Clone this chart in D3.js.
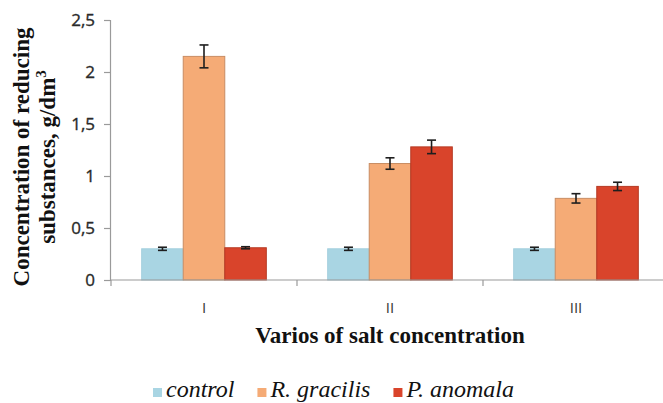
<!DOCTYPE html>
<html>
<head>
<meta charset="utf-8">
<script src="https://cdn.jsdelivr.net/npm/d3@7"></script>
<style>
  html, body { margin: 0; padding: 0; background: #fff; }
  svg { display: block; }
  .legend-text { font-family: "Liberation Serif", "Times New Roman", serif; font-style: italic; font-size: 24px; }
</style>
</head>
<body>
<div id="chart"></div>
<script>
// data
const categories = ['I', 'II', 'III'];
const seriesNames = ['control', 'R. gracilis', 'P. anomala'];
const controlValues = [0.30, 0.30, 0.30];
const gracilisValues = [2.15, 1.12, 0.785];
const anomalaValues = [0.31, 1.28, 0.90];
const controlErrors = [0.015, 0.015, 0.015];
const gracilisErrors = [0.11, 0.055, 0.045];
const anomalaErrors = [0.01, 0.065, 0.04];
const yTicks = [0, 0.5, 1, 1.5, 2, 2.5];

const seriesValues = [controlValues, gracilisValues, anomalaValues];
const seriesErrors = [controlErrors, gracilisErrors, anomalaErrors];
const fills = ['#a9d5e3', '#f5ab76', '#d9442b'];
const strokes = ['#a3cfdd', '#c98d63', '#b53a24'];

const width = 663, height = 403;
const margin = { top: 20, left: 110, bottom: 280 };
const serif = '"Liberation Serif", "Times New Roman", serif';

const svg = d3.select('#chart').append('svg')
  .attr('width', width)
  .attr('height', height);

const x = d3.scaleBand()
  .domain(categories)
  .range([111, 669])
  .padding(0);

const xGroup = d3.scaleBand()
  .domain(categories)
  .range([111, 669])
  .paddingInner(0.33)
  .paddingOuter(0.165);

const xInner = d3.scaleBand()
  .domain(seriesNames)
  .range([0, xGroup.bandwidth()])
  .padding(0);

const y = d3.scaleLinear()
  .domain([0, 2.5])
  .range([margin.bottom, margin.top]);

const rows = [];
categories.forEach((c, i) => {
  seriesNames.forEach((s, j) => {
    rows.push({ cat: c, series: s, idx: j, value: seriesValues[j][i], err: seriesErrors[j][i] });
  });
});

// y axis
const yAxis = svg.append('g')
  .attr('transform', `translate(${margin.left},0)`)
  .call(d3.axisLeft(y).tickValues(yTicks).tickSize(6).tickPadding(9)
    .tickFormat(d => String(d).replace('.', ',')));
yAxis.select('.domain').attr('stroke', '#9a9a9a').attr('stroke-width', 1.2);
yAxis.selectAll('.tick line').attr('stroke', '#9a9a9a').attr('stroke-width', 1.2);
yAxis.selectAll('.tick text')
  .attr('fill', '#2a2a2a')
  .attr('stroke', '#2a2a2a')
  .attr('stroke-width', 0.35)
  .style('font-family', '"Open Sans", sans-serif')
  .style('font-size', '17px');

// bars
svg.append('g').selectAll('rect')
  .data(rows)
  .join('rect')
  .attr('x', d => xGroup(d.cat) + xInner(d.series))
  .attr('y', d => y(d.value))
  .attr('width', xInner.bandwidth())
  .attr('height', d => y(0) - y(d.value))
  .attr('fill', d => fills[d.idx])
  .attr('stroke', d => strokes[d.idx])
  .attr('stroke-width', 1);

// error bars
const eb = svg.append('g').attr('stroke', '#1e1e1e').attr('stroke-width', 1.6);
rows.forEach(d => {
  const cx = xGroup(d.cat) + xInner(d.series) + xInner.bandwidth() / 2;
  eb.append('line').attr('x1', cx).attr('x2', cx)
    .attr('y1', y(d.value + d.err)).attr('y2', y(d.value - d.err));
  [d.value + d.err, d.value - d.err].forEach(v => {
    eb.append('line').attr('x1', cx - 4.5).attr('x2', cx + 4.5)
      .attr('y1', y(v)).attr('y2', y(v));
  });
});

// x axis
const xAxisG = svg.append('g').attr('transform', `translate(0,${margin.bottom})`);
xAxisG.append('line')
  .attr('x1', 111).attr('x2', width)
  .attr('stroke', '#9a9a9a').attr('stroke-width', 1.2);
xAxisG.selectAll('.tick')
  .data(categories)
  .join('line')
  .attr('x1', d => x(d)).attr('x2', d => x(d))
  .attr('y1', 0).attr('y2', 6)
  .attr('stroke', '#9a9a9a').attr('stroke-width', 1.2);
xAxisG.selectAll('.lbl')
  .data(categories)
  .join('text')
  .attr('x', d => x(d) + x.bandwidth() / 2)
  .attr('y', 33)
  .attr('text-anchor', 'middle')
  .attr('fill', '#333')
  .style('font-family', '"Open Sans", sans-serif')
  .style('font-size', '15px')
  .text(d => d);

// axis titles
svg.append('text')
  .attr('x', 390).attr('y', 343)
  .attr('text-anchor', 'middle')
  .style('font-family', serif)
  .style('font-weight', 'bold')
  .style('font-size', '23px')
  .attr('fill', '#111')
  .text('Varios of salt concentration');

const yTitle = svg.append('text')
  .attr('transform', 'translate(0,157) rotate(-90)')
  .attr('text-anchor', 'middle')
  .style('font-family', serif)
  .style('font-weight', 'bold')
  .style('font-size', '23px')
  .attr('fill', '#111');
yTitle.append('tspan').attr('x', 0).attr('y', 29).text('Concentration of reducing');
const l2 = yTitle.append('tspan').attr('x', 0).attr('y', 55);
l2.append('tspan').text('substances,  g/dm');
l2.append('tspan').attr('dy', -9).style('font-size', '15px').text('3');

// legend
const legend = svg.append('g');
let lx = 153;
seriesNames.forEach((s, j) => {
  legend.append('rect')
    .attr('x', lx).attr('y', 388)
    .attr('width', 9).attr('height', 9)
    .attr('fill', fills[j]);
  const t = legend.append('text')
    .attr('class', 'legend-text')
    .attr('x', lx + 13).attr('y', 397)
    .attr('fill', '#111')
    .text(s);
  lx += 13 + t.node().getComputedTextLength() + 23;
});
</script>
</body>
</html>
